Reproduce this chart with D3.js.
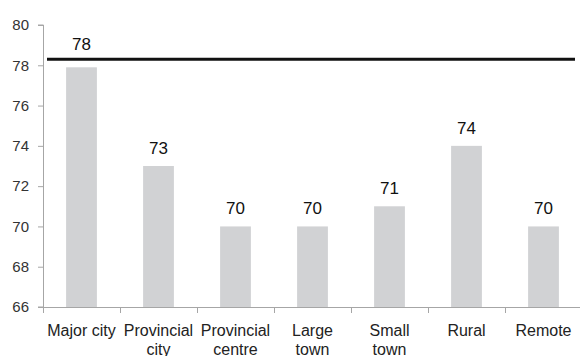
<!DOCTYPE html>
<html lang="en">
<head>
<meta charset="UTF-8">
<script src="https://d3js.org/d3.v7.min.js"></script>
<title>Bar chart</title>
<style>
body { margin: 0; background: #fff; }
svg { display: block; font-family: 'Liberation Sans', Arial, sans-serif; }
.axis path, .axis line { stroke: #a6a6a6; }
.axis text { fill: #333; }
</style>
</head>
<body>
<svg id="canvas"></svg>
<script>
let categories = ['Major city', 'Provincial city', 'Provincial centre', 'Large town', 'Small town', 'Rural', 'Remote']
let tickLines = [['Major city'], ['Provincial', 'city'], ['Provincial', 'centre'], ['Large', 'town'], ['Small', 'town'], ['Rural'], ['Remote']]
let values = [77.9, 73, 70, 70, 71, 74, 70]
let labels = ['78', '73', '70', '70', '71', '74', '70']
let refValue = 78.3
let yTicks = [66, 68, 70, 72, 74, 76, 78, 80]

let width = 580
let height = 356
let plotLeft = 43
let plotRight = 582
let plotTop = 25
let plotBottom = 307

let svg = d3.select('svg').attr('width', width).attr('height', height)

let xScale = d3.scaleBand()
    .domain(categories)
    .range([plotLeft, plotRight])
    .paddingInner(0.6)
    .paddingOuter(0.3)

let yScale = d3.scaleLinear()
    .domain([66, 80])
    .range([plotBottom, plotTop])

// bars
svg.selectAll('rect.bar')
    .data(values)
    .enter()
    .append('rect')
    .attr('class', 'bar')
    .attr('x', (d, i) => xScale(categories[i]))
    .attr('width', xScale.bandwidth())
    .attr('y', d => yScale(d))
    .attr('height', d => plotBottom - yScale(d))
    .attr('fill', '#d1d2d4')

// y axis
let yAxis = d3.axisLeft(yScale).tickValues(yTicks).tickSize(5).tickPadding(9)
let gy = svg.append('g')
    .attr('class', 'axis')
    .attr('transform', 'translate(' + plotLeft + ',0)')
    .call(yAxis)
gy.select('.domain').attr('d', 'M-5,' + plotTop + 'H0.5V' + plotBottom + 'H-5')
gy.selectAll('text').style('font-size', '15px')

// x axis with ticks at band edges
let step = xScale.step()
let edges = d3.range(categories.length).map(i => plotLeft + i * step)
let xEdge = d3.scaleLinear().domain([plotLeft, plotRight]).range([plotLeft, plotRight])
let xAxis = d3.axisBottom(xEdge).tickValues(edges).tickSize(6).tickFormat('')
let gx = svg.append('g')
    .attr('class', 'axis')
    .attr('transform', 'translate(0,' + plotBottom + ')')
    .call(xAxis)
gx.select('.domain').attr('d', 'M' + plotLeft + ',0.5H' + plotRight)

// category labels
let catText = svg.append('g')
    .selectAll('text')
    .data(tickLines)
    .enter()
    .append('text')
    .attr('text-anchor', 'middle')
    .attr('fill', '#222')
    .style('font-size', '16px')
catText.selectAll('tspan')
    .data((d, i) => d.map(t => ({ t: t, i: i })))
    .enter()
    .append('tspan')
    .attr('x', d => xScale(categories[d.i]) + xScale.bandwidth() / 2)
    .attr('y', (d, j) => plotBottom + 29 + j * 19)
    .text(d => d.t)

// reference line
let refY = yScale(refValue)
svg.append('line')
    .attr('x1', plotLeft + 4)
    .attr('x2', 575)
    .attr('y1', refY)
    .attr('y2', refY)
    .attr('stroke', '#111')
    .attr('stroke-width', 3)

// value labels (pushed above the line when the bar reaches it)
let labelY = (d) => {
    let y = yScale(d) - 12
    return y < refY + 16 ? refY - 9 : y
}
svg.selectAll('text.val')
    .data(values)
    .enter()
    .append('text')
    .attr('class', 'val')
    .attr('text-anchor', 'middle')
    .attr('fill', '#111')
    .style('font-size', '17px')
    .attr('x', (d, i) => xScale(categories[i]) + xScale.bandwidth() / 2)
    .attr('y', labelY)
    .text((d, i) => labels[i])
</script>
</body>
</html>
